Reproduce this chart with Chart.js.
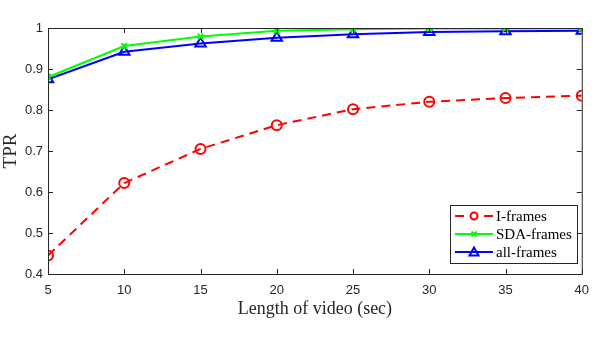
<!DOCTYPE html>
<html><head><meta charset="utf-8">
<script src="https://cdn.jsdelivr.net/npm/chart.js@4/dist/chart.umd.min.js"></script>
<style>html,body{margin:0;padding:0;background:#fff;}#wrap{width:598px;height:339px;}</style>
</head><body><div id="wrap"><canvas id="c" width="598" height="339"></canvas></div>
<script>
const lengths = [5, 10, 15, 20, 25, 30, 35, 40];
const iFrames = [0.445, 0.622, 0.705, 0.763, 0.802, 0.820, 0.829, 0.835];
const sdaFrames = [0.880, 0.956, 0.979, 0.993, 0.997, 0.999, 0.999, 0.999];
const allFrames = [0.875, 0.942, 0.962, 0.976, 0.985, 0.990, 0.992, 0.993];
const xTicks = [5, 10, 15, 20, 25, 30, 35, 40];
const yTicks = [0.4, 0.5, 0.6, 0.7, 0.8, 0.9, 1];

const pts = arr => lengths.map((x, i) => ({x: x, y: arr[i]}));
const AX = '#262626';

const boxPlugin = {
  id: 'box',
  afterDatasetsDraw(chart) {
    const {ctx, chartArea: a, scales: {x, y}} = chart;
    ctx.save();
    ctx.strokeStyle = AX; ctx.lineWidth = 1;
    ctx.strokeRect(a.left + 0.5, a.top + 0.5, a.right - a.left, a.bottom - a.top);
    const L = 5;
    ctx.beginPath();
    xTicks.forEach(v => {
      const p = Math.round(x.getPixelForValue(v)) + 0.5;
      ctx.moveTo(p, a.bottom); ctx.lineTo(p, a.bottom - L);
      ctx.moveTo(p, a.top); ctx.lineTo(p, a.top + L);
    });
    yTicks.forEach(v => {
      const p = Math.round(y.getPixelForValue(v)) + 0.5;
      ctx.moveTo(a.left, p); ctx.lineTo(a.left + L, p);
      ctx.moveTo(a.right, p); ctx.lineTo(a.right - L, p);
    });
    ctx.stroke();
    // legend
    const bx = 450.5, by = 205.5, bw = 127, bh = 58;
    ctx.fillStyle = '#fff';
    ctx.fillRect(bx, by, bw, bh);
    ctx.strokeStyle = AX;
    ctx.strokeRect(bx, by, bw, bh);
    chart.data.datasets.forEach((ds, i) => {
      const ry = 216 + i * 18;
      ctx.strokeStyle = ds.borderColor;
      ctx.lineWidth = 2;
      ctx.beginPath();
      if (ds.borderDash) {
        ctx.moveTo(455, ry); ctx.lineTo(464, ry);
        ctx.moveTo(484, ry); ctx.lineTo(493, ry);
      } else {
        ctx.moveTo(455, ry); ctx.lineTo(493, ry);
      }
      ctx.stroke();
      const cx = 474;
      ctx.lineWidth = 2;
      ctx.beginPath();
      if (ds.pointStyle === 'circle') { ctx.arc(cx, ry, 3.5, 0, Math.PI * 2); }
      else if (ds.pointStyle === 'cross') { ctx.moveTo(cx-2.5, ry-2.5); ctx.lineTo(cx+2.5, ry+2.5); ctx.moveTo(cx+2.5, ry-2.5); ctx.lineTo(cx-2.5, ry+2.5); }
      else { ctx.moveTo(cx, ry-4.5); ctx.lineTo(cx+4.5, ry+3.5); ctx.lineTo(cx-4.5, ry+3.5); ctx.closePath(); }
      ctx.stroke();
      ctx.fillStyle = '#000';
      ctx.font = '15px "Liberation Serif"';
      ctx.textBaseline = 'middle'; ctx.textAlign = 'left';
      ctx.fillText(ds.label, 496, ry + 1);
    });
    ctx.restore();
  }
};

new Chart(document.getElementById('c'), {
  type: 'line',
  data: {
    datasets: [
      {label: 'I-frames', data: pts(iFrames), borderColor: '#ff0000', backgroundColor: 'rgba(0,0,0,0)', borderWidth: 2, borderDash: [9, 6], pointStyle: 'circle', pointRadius: 5, pointBorderWidth: 2, pointBorderColor: '#ff0000', pointBackgroundColor: 'rgba(0,0,0,0)'},
      {label: 'SDA-frames', data: pts(sdaFrames), borderColor: '#00ff00', backgroundColor: 'rgba(0,0,0,0)', borderWidth: 2, pointStyle: 'cross', pointRotation: 45, pointRadius: 4, pointBorderWidth: 2, pointBorderColor: '#00ff00'},
      {label: 'all-frames', data: pts(allFrames), borderColor: '#0000ff', backgroundColor: 'rgba(0,0,0,0)', borderWidth: 2, pointStyle: 'triangle', pointRadius: 6, pointBorderWidth: 2, pointBorderColor: '#0000ff', pointBackgroundColor: 'rgba(0,0,0,0)'}
    ]
  },
  options: {
    responsive: false, animation: false,
    layout: {padding: {top: 28, right: 10, left: 0, bottom: 19}},
    plugins: {legend: {display: false}, tooltip: {enabled: false}},
    scales: {
      x: {
        type: 'linear', min: 5, max: 40,
        afterBuildTicks: s => { s.ticks = xTicks.map(v => ({value: v})); },
        afterFit: s => { s.height = 46; },
        grid: {display: false, drawTicks: false},
        border: {display: false},
        ticks: {color: AX, font: {family: '"Liberation Sans"', size: 13}, padding: 9, maxRotation: 0},
        title: {display: true, text: 'Length of video (sec)', color: '#262626', font: {family: '"Liberation Serif"', size: 18}, padding: {top: 0, bottom: 0}}
      },
      y: {
        min: 0.4, max: 1,
        afterBuildTicks: s => { s.ticks = yTicks.map(v => ({value: v})); },
        afterFit: s => { s.width = 48; },
        grid: {display: false, drawTicks: false},
        border: {display: false},
        ticks: {color: AX, font: {family: '"Liberation Sans"', size: 13}, padding: 5, callback: v => String(v)},
        title: {display: true, text: 'TPR', color: '#262626', font: {family: '"Liberation Serif"', size: 19}, padding: {top: 0, bottom: 2}}
      }
    }
  },
  plugins: [boxPlugin]
});
</script></body></html>
